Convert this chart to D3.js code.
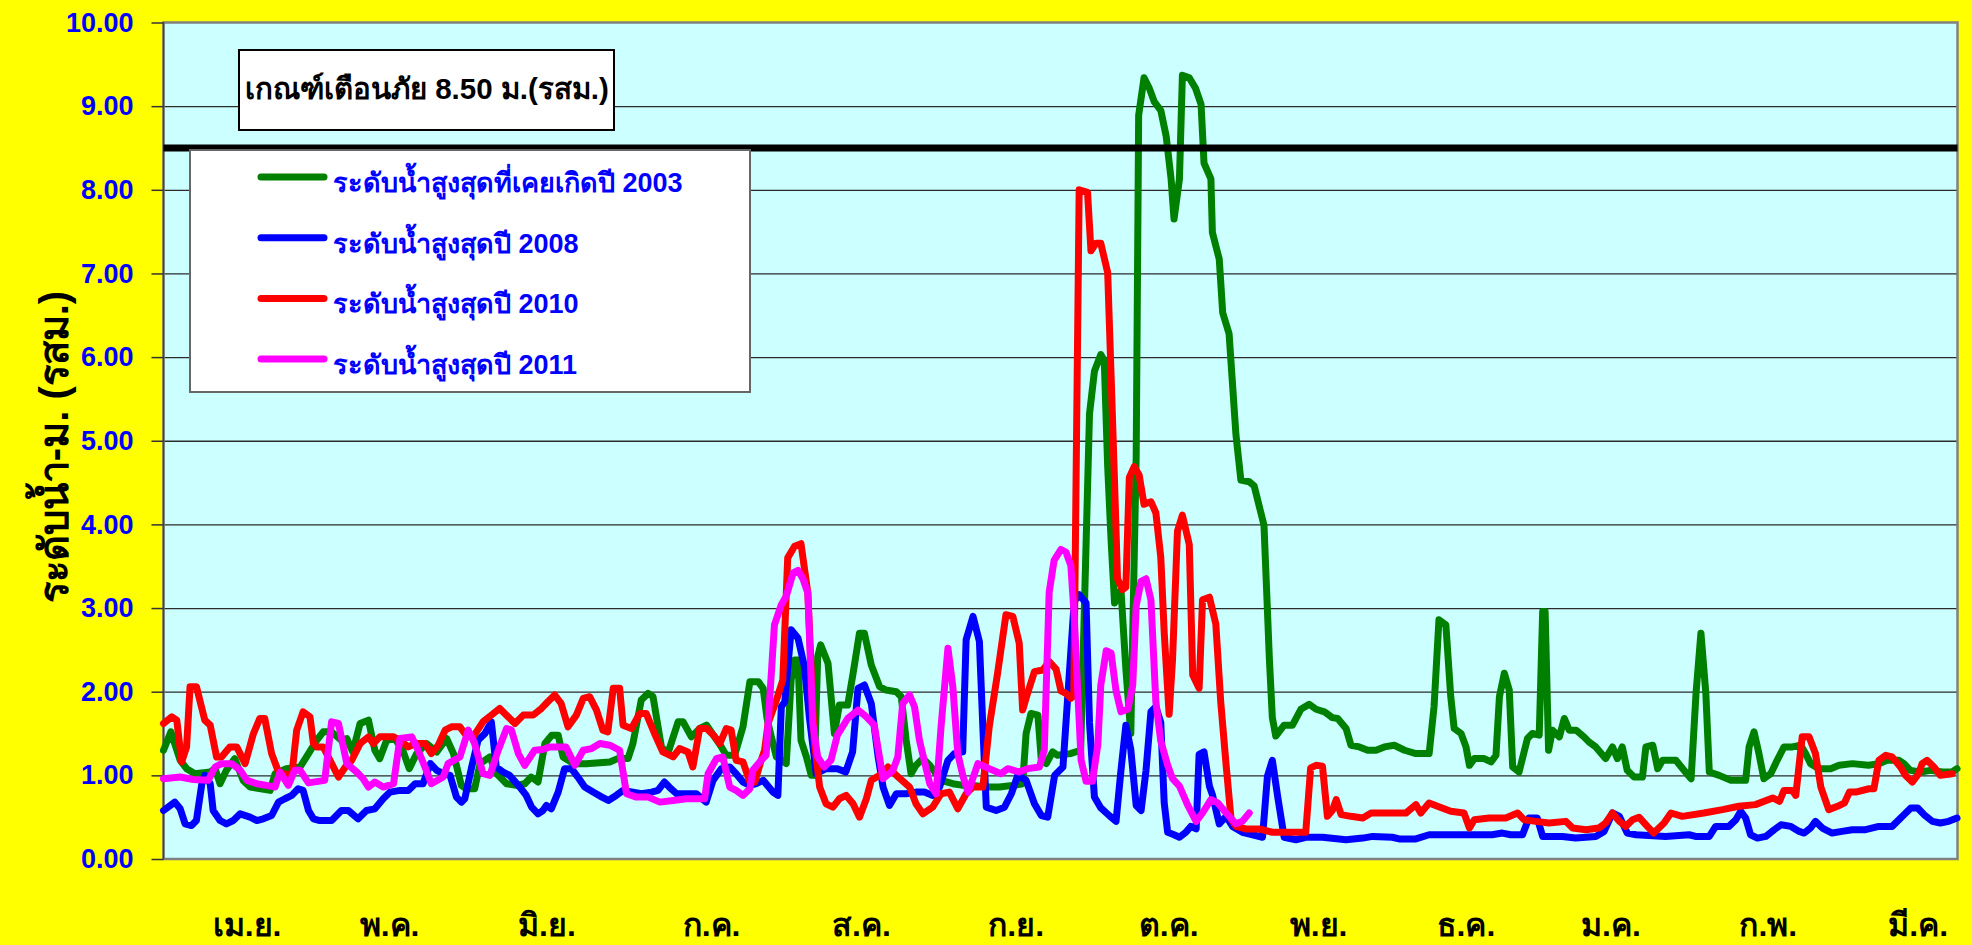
<!DOCTYPE html>
<html>
<head>
<meta charset="utf-8">
<script src="https://d3js.org/d3.v7.min.js"></script>
<style type="text/css">
  body {
    margin: 0;
    background: #ffff00;
    font-family: "Liberation Sans", Arial, sans-serif;
  }
  .ylab text { fill: #0000ff; font-weight: bold; font-size: 27px; }
  .ylab path { display: none; }
  .ylab line { stroke: #333; stroke-width: 1.5; }
  .grid line { stroke: #2b2b2b; stroke-width: 1.3; }
  .grid path { display: none; }
  .series { fill: none; stroke-width: 7; stroke-linejoin: round; stroke-linecap: round; }
</style>
</head>
<body>
<script type="text/javascript">

// day of the water year (0 = 1 April) and water level (m. รสม.)
var months = ["เม.ย.", "พ.ค.", "มิ.ย.", "ก.ค.", "ส.ค.", "ก.ย.", "ต.ค.", "พ.ย.", "ธ.ค.", "ม.ค.", "ก.พ.", "มี.ค."];
var monthDays = [17, 46, 78, 111.5, 142, 173.5, 204.5, 235, 265, 294.5, 326.5, 357];
var yTicks = [0, 1, 2, 3, 4, 5, 6, 7, 8, 9, 10];
var warnLevel = 8.5;
var warnText = "เกณฑ์เตือนภัย 8.50 ม.(รสม.)";
var yTitle = "ระดับน้ำ-ม. (รสม.)";

var level2003 = [[0,1.3],[1.5,1.52],[3.4,1.18],[4.7,1.08],[6.4,1.02],[9.5,1.04],[10.5,1.08],[11.5,0.9],[12.8,1.06],[14.5,1.2],[16.2,0.94],[17.6,0.86],[21.7,0.82],[22.7,1.02],[25,1.08],[27.8,1.1],[29.5,1.26],[31.2,1.42],[32.5,1.52],[34.2,1.52],[36.2,1.42],[37.3,1.44],[38.5,1.28],[40,1.62],[41.7,1.66],[43,1.3],[44,1.2],[45.4,1.42],[47.1,1.44],[48.8,1.28],[50,1.08],[51.5,1.26],[53.5,1.38],[55.6,1.28],[57.6,1.44],[59,1.26],[60.6,0.88],
  [61.6,0.84],[63.3,0.84],[64.4,1.14],[66.4,1.22],[67.8,1.02],[69.8,0.9],[71.8,0.88],[73.5,0.9],[74.8,0.98],[76.2,0.92],[77.6,1.38],[79,1.48],[80.3,1.48],[81.3,1.22],[83.4,1.14],[86,1.14],[90.8,1.16],[92.4,1.2],[94.5,1.2],[95.5,1.38],[97.2,1.9],[98.6,1.98],[99.6,1.94],[101.3,1.34],[102.6,1.26],[104.7,1.64],[105.7,1.64],[107.4,1.46],[109.1,1.56],[110.5,1.6],[111.9,1.48],[113.5,1.34],[114.5,1.24],[116.2,1.24],[117.9,1.58],[119.3,2.12],[121,2.12],[122,2.04],
  [122.8,1.68],[123.5,1.5],[124.7,1.22],[126.7,1.14],[127.7,2.14],[128.4,2.38],[129.1,2.38],[129.7,1.42],[130.8,1.22],[131.8,1.0],[132.4,1.0],[133.1,2.42],[133.7,2.56],[135.2,2.34],[136.5,1.5],[137.5,1.84],[139.2,1.84],[140.3,2.22],[141.6,2.7],[142.6,2.7],[144,2.32],[145.7,2.06],[147,2.02],[149.1,2.0],[150.1,1.94],[151.1,1.42],[152.1,1.02],[153.1,1.12],[154.5,1.2],[155.9,1.12],[158.2,0.94],[160.6,0.9],[162.7,0.88],[164.7,0.88],[167.4,0.86],[170.1,0.86],[172.8,0.88],[174.8,0.9],[175.5,1.5],[176.5,1.74],[177.9,1.72],[178.6,1.18],[179.6,1.14],[180.9,1.28],[181.9,1.24],
  [184.5,1.26],[186.6,1.3],[188.4,5.32],[189.4,5.83],[190.7,6.03],[191.4,5.96],[192.1,4.69],[192.8,3.8],[193.5,3.06],[194.8,3.22],[195.8,2.27],[196.8,1.5],[197.9,4.81],[198.4,8.89],[199.5,9.34],[200.6,9.21],[201.6,9.05],[202.9,8.95],[204,8.64],[205,8.13],[205.6,7.65],[206.7,8.13],[207.3,9.37],[208.7,9.34],[210,9.21],[211.1,9.02],[211.7,8.32],[213.1,8.13],[213.4,7.49],[214.8,7.17],[215.5,6.53],[216.8,6.28],[218.2,5.07],[219.2,4.53],[220.9,4.51],[221.9,4.46],[223.9,3.99],[225,2.39],[225.6,1.69],[226.3,1.47],[228,1.6],[229.7,1.6],[231.4,1.79],[233.1,1.85],[234.5,1.79],[236.2,1.76],[237.8,1.69],
  [238.9,1.68],[240.6,1.56],[241.6,1.36],[243.3,1.34],[245,1.3],[246.7,1.3],[248.4,1.34],[250.4,1.36],[252.5,1.3],[254.8,1.26],[257.5,1.26],[258.5,1.82],[259.5,2.86],[260.9,2.8],[261.9,1.94],[262.6,1.56],[264,1.5],[265,1.34],[265.7,1.12],[266.7,1.2],[268.7,1.2],[270.1,1.16],[271.1,1.24],[271.8,1.94],[272.8,2.22],[273.8,2.02],[274.5,1.1],[275.8,1.04],[277.5,1.44],[278.5,1.5],[279.9,1.48],[280.6,2.96],[281.1,2.96],[281.8,1.3],[282.6,1.54],[284,1.46],[285,1.68],[286,1.54],[287.4,1.54],[289,1.46],[290,1.4],[291.4,1.34],[293.4,1.2],[294.8,1.34],[295.8,1.2],[296.8,1.34],[297.8,1.06],[299.2,0.98],[300.9,0.98],
  [301.6,1.34],[303,1.36],[304,1.08],[305,1.18],[307.7,1.18],[309.1,1.08],[310.8,0.96],[311.8,1.98],[312.8,2.7],[313.8,1.98],[314.5,1.04],[316.5,1.0],[318.9,0.94],[321.9,0.94],[322.6,1.34],[323.6,1.52],[324.6,1.26],[325.6,0.96],[327,1.02],[328.3,1.18],[329.7,1.34],[331.4,1.34],[333.1,1.36],[334.1,1.26],[335.1,1.14],[336.8,1.08],[339.2,1.08],[340.9,1.12],[343.6,1.14],[346.9,1.12],[349,1.14],[350.7,1.18],[353.1,1.18],[354.1,1.14],[355.4,1.06],[357.5,1.04],[359.5,1.06],[361.9,1.04],[363.9,1.04],[364.9,1.08]];

var level2008 = [[0,0.58],[2.3,0.68],[3.4,0.6],[4.4,0.42],[5.7,0.4],[6.7,0.46],[7.8,0.9],[8.4,1.0],[9.5,0.9],[10.1,0.58],[11.5,0.46],[12.8,0.42],[14.2,0.46],[15.6,0.54],[17.6,0.5],[19,0.46],[20.3,0.48],[22,0.52],[23.4,0.68],[24.7,0.72],[26.1,0.76],[27.4,0.84],[28.4,0.82],[29.5,0.58],[30.5,0.48],[31.8,0.46],[34.2,0.46],[36.2,0.58],[37.6,0.58],[39.6,0.48],[41.3,0.58],[43,0.6],[44.7,0.72],[46.1,0.8],[48.1,0.82],[49.8,0.82],[51.2,0.9],[52.8,0.9],[54.3,1.14],[55.6,1.06],[56.9,1.02],[58.3,1.0],[59.6,0.74],[60.6,0.68],
  [61.3,0.72],[62.7,1.1],[64,1.42],[65.4,1.5],[66.7,1.64],[67.7,1.1],[69.1,1.04],[70.4,1.0],[72.5,0.86],[73.8,0.76],[74.9,0.62],[76.2,0.54],[77.2,0.58],[77.9,0.64],[78.9,0.6],[80.3,0.8],[81.6,1.08],[83,1.08],[84.3,0.98],[85.7,0.86],[87.4,0.8],[89.2,0.74],[90.5,0.7],[92.1,0.76],[93.5,0.82],[95.5,0.8],[97.2,0.78],[99.3,0.8],[100.6,0.82],[101.9,0.92],[102.9,0.86],[104.4,0.78],[106.4,0.78],[108.4,0.78],[110.4,0.68],[111.8,0.94],[113.5,1.08],[115.2,1.1],[116.5,1.02],[117.9,0.92],[119.3,0.88],[120.6,0.9],[122,0.94],
  [124,0.8],[125,0.76],[125.7,1.82],[126.4,1.88],[127.7,2.74],[129.1,2.64],[130.4,2.3],[131.4,1.7],[132.8,1.02],[134.8,1.08],[137.1,1.08],[138.8,1.04],[140.2,1.28],[141.3,2.04],[142.6,2.08],[144,1.86],[145.4,1.22],[146.4,0.86],[147.7,0.64],[149.1,0.78],[151.1,0.78],[153.1,0.8],[154.8,0.8],[156.5,0.76],[157.9,0.86],[159.6,1.18],[160.9,1.26],[162.6,1.28],[163.3,2.62],[164.7,2.9],[166,2.6],[166.7,1.58],[167.4,0.62],[169.4,0.58],[171.1,0.62],[172.5,0.78],[173.8,1.0],[175.5,0.94],[177.2,0.66],[178.6,0.52],[179.9,0.5],[181.3,1.0],[183,1.1],
  [185.3,3.08],[186.3,3.16],[187.7,3.06],[188.4,1.63],[189.4,0.74],[190.7,0.61],[192.4,0.52],[193.8,0.45],[194.8,1.06],[195.8,1.6],[196.8,1.31],[197.9,0.64],[198.9,0.58],[199.9,1.06],[200.9,1.76],[201.9,1.82],[202.9,1.63],[203.6,0.67],[204.3,0.32],[205.6,0.29],[206.7,0.26],[208,0.32],[209,0.39],[210.1,0.36],[210.7,1.25],[211.7,1.28],[212.8,0.87],[213.4,0.77],[214.8,0.42],[216.2,0.51],[217.5,0.39],[219.5,0.32],[221.6,0.29],[223.6,0.26],[224.6,0.99],[225.6,1.18],[226.7,0.74],[228,0.26],[230.4,0.23],[232.4,0.26],[235.8,0.26],
  [240.6,0.23],[244,0.25],[246,0.27],[250,0.26],[251.4,0.24],[254.8,0.24],[257.5,0.29],[264.3,0.29],[270.3,0.29],[272.4,0.31],[274.1,0.29],[276.5,0.29],[277.8,0.49],[279.5,0.49],[280.6,0.27],[284.6,0.27],[287.3,0.25],[291.4,0.27],[293.1,0.33],[294.8,0.55],[296.2,0.51],[297.8,0.31],[299.6,0.29],
  [305.6,0.27],[310.4,0.29],[311.7,0.27],[314.5,0.27],[315.8,0.39],[318.5,0.39],[319.9,0.47],[320.9,0.57],[321.9,0.49],[322.9,0.29],[324.3,0.25],[326,0.27],[327.7,0.35],[329.1,0.41],[331.1,0.39],[332.8,0.33],[333.8,0.31],[335.1,0.37],[336.1,0.45],[337.5,0.37],[339.5,0.31],[341.5,0.33],[343.6,0.35],[346.3,0.35],[349,0.39],[351.7,0.39],[353.8,0.51],[355.5,0.61],[356.9,0.61],[358.2,0.53],[359.9,0.45],[361.5,0.43],[363.2,0.45],[364.9,0.49]];

var level2010 = [[0,1.62],[1.7,1.7],[2.7,1.66],[3.7,1.16],[4.7,1.34],[5.4,2.06],[6.7,2.06],[8.4,1.66],[9.5,1.6],[10.8,1.22],[11.8,1.22],[13.5,1.34],[14.9,1.34],[16.6,1.14],[18.3,1.5],[19.6,1.68],[20.6,1.68],[22,1.26],[23.4,1.04],[24.4,1.02],[26.1,1.0],[27.1,1.54],[28.4,1.76],[29.8,1.7],[30.5,1.38],[31.2,1.34],[32.5,1.34],[35.6,0.98],[37,1.1],[38.3,1.18],[40,1.38],[41.7,1.46],[42.7,1.38],[44,1.46],[46.8,1.46],[48.1,1.42],[49.8,1.34],[51.2,1.38],[53.2,1.38],[54.5,1.26],[55.9,1.36],[57.3,1.54],[58.6,1.58],[60.3,1.58],
  [61.3,1.5],[63,1.46],[65,1.64],[66.7,1.72],[68.4,1.8],[70.1,1.7],[71.5,1.62],[73.2,1.72],[75.2,1.72],[76.9,1.8],[78.2,1.88],[79.6,1.96],[80.9,1.86],[82.3,1.58],[84,1.72],[85.4,1.92],[86.7,1.94],[88.1,1.78],[89.4,1.54],[90.4,1.52],[91.5,2.04],[92.8,2.04],[93.5,1.6],[95.2,1.56],[96.9,1.74],[98.2,1.74],[99.9,1.5],[101.6,1.28],[103.7,1.22],[105,1.32],[106.7,1.28],[107.7,1.1],[109.1,1.56],[110.5,1.56],[111.9,1.48],[113.2,1.38],[114.5,1.56],[115.5,1.54],[116.5,1.18],[117.9,1.16],[119.3,0.92],[120.3,0.92],[121.6,1.18],
  [122.3,1.3],[123,1.62],[124.7,1.9],[126,2.14],[127,3.6],[128.4,3.74],[129.7,3.77],[131.1,3.18],[132.4,1.42],[133.5,0.86],[134.8,0.66],[136.2,0.62],[137.5,0.72],[138.9,0.76],[140.3,0.66],[141.6,0.5],[143,0.72],[144,0.94],[145.7,1.0],[147.4,1.1],[149.1,1.0],[151.8,0.86],[153.1,0.66],[154.5,0.54],[156.5,0.62],[158.2,0.78],[159.9,0.8],[161.6,0.6],[163.3,0.78],[164.7,0.86],[166.7,0.86],[168,1.58],[169.7,2.22],[171.4,2.92],[172.8,2.9],[174.1,2.58],[174.8,1.78],[175.8,1.98],[177.2,2.24],[178.9,2.26],[180.2,2.36],[181.6,2.27],[182.6,2.01],[183.6,1.98],[184.6,1.92],[185.2,1.95],
  [186.3,8.0],[188,7.97],[188.7,7.27],[189.7,7.36],[190.7,7.36],[192.1,7.01],[192.8,5.77],[193.5,4.5],[194.1,3.35],[195.1,3.22],[195.8,3.25],[196.5,4.56],[197.5,4.69],[198.5,4.59],[199.5,4.24],[200.9,4.27],[201.9,4.14],[202.9,3.61],[203.6,2.71],[204.6,1.73],[205.3,2.39],[206.3,3.92],[207.3,4.11],[208.7,3.76],[209.4,2.2],[210.7,2.04],[211.4,3.1],[212.8,3.13],[214.1,2.81],[215.1,1.88],[216.2,1.12],[217.2,0.48],[218.2,0.39],[220.2,0.36],[222.9,0.36],[225.6,0.32],[229.7,0.32],[232.4,0.32],[233.4,1.09],[234.5,1.12],[235.8,1.11],[236.8,0.51],[237.8,0.58],
  [238.6,0.71],[239.6,0.53],[241.6,0.51],[244,0.49],[245.7,0.55],[248.7,0.55],[252.8,0.55],[254.8,0.65],[255.8,0.55],[257.5,0.67],[259.2,0.63],[261.9,0.57],[264.6,0.55],[265.7,0.37],[266.7,0.47],[269.7,0.49],[273.1,0.49],[275.5,0.55],[276.8,0.47],[279.2,0.45],[281.9,0.43],[285.3,0.45],[286.7,0.37],[289.4,0.35],[292,0.37],[293.4,0.43],[294.8,0.55],[296.2,0.45],[297.5,0.39],[298.9,0.47],
  [300.2,0.5],[301.9,0.39],[303.2,0.31],[305.3,0.43],[306.7,0.55],[309,0.51],[313.4,0.55],[317.2,0.59],[320.5,0.63],[323.9,0.65],[327.4,0.73],[328.8,0.69],[329.7,0.82],[331.4,0.82],[332.1,0.76],[333.4,1.46],[334.8,1.46],[336.1,1.26],[337.2,0.86],[338.8,0.59],[340.6,0.63],[342,0.67],[343,0.8],[344.3,0.8],[347,0.84],[348,0.84],[349,1.18],[350.4,1.24],[351.7,1.22],[353.4,1.1],[354.4,1.0],[355.8,0.92],[357.1,1.02],[357.8,1.14],[358.8,1.18],[360.2,1.1],[361.5,1.0],[363.9,1.02]];

var level2011 = [[0,0.96],[3.4,0.98],[6.1,0.95],[9.1,0.94],[10.5,1.1],[11.8,1.14],[13.9,1.14],[15.6,1.06],[17,0.94],[19,0.9],[21,0.88],[22.7,0.86],[23.7,1.04],[25.4,0.88],[26.7,1.06],[27.8,1.06],[29.5,0.91],[32.8,0.94],[34.2,1.64],[35.6,1.62],[37.3,1.14],[39.3,1.04],[40.6,0.96],[41.7,0.86],[43,0.92],[44.7,0.86],[46.8,0.9],[48.1,1.44],[50.5,1.46],[51.8,1.3],[53.2,1.1],[54.5,0.9],[56.9,0.98],[57.9,1.14],[60.3,1.22],
  [62,1.54],[63.3,1.38],[65,1.02],[66.4,1.0],[68.1,1.3],[69.8,1.56],[70.8,1.54],[72.2,1.26],[73.5,1.12],[75.5,1.3],[77.2,1.31],[78.6,1.34],[80.6,1.34],[81.9,1.34],[83.7,1.12],[85.4,1.3],[87.1,1.32],[88.8,1.38],[90.8,1.36],[92.8,1.3],[93.5,1.04],[94.2,0.78],[96.2,0.74],[98.6,0.74],[101,0.68],[103.7,0.7],[106.4,0.72],[110.1,0.72],[110.8,1.02],[112.5,1.2],[113.8,1.22],[115.2,0.86],[116.5,0.82],[117.9,0.76],[119.3,0.84],[119.9,1.06],[121.6,1.18],
  [122.6,1.24],[124.3,2.8],[125.7,3.04],[126.7,3.14],[128.1,3.42],[129.1,3.45],[130.1,3.35],[131.1,3.18],[132.1,1.62],[133.1,1.22],[134.4,1.1],[135.8,1.18],[137.1,1.48],[139.2,1.68],[141.3,1.78],[143,1.7],[144.6,1.6],[146.4,0.96],[148.4,1.06],[149.4,1.22],[150.4,1.86],[151.8,1.96],[152.8,1.82],[153.8,1.42],[155.9,0.9],[157.2,0.78],[158.2,1.58],[159.6,2.52],[160.6,2.06],[161.6,1.26],[162.7,0.98],[163.7,0.8],[165.7,1.14],[168,1.08],[170.4,1.02],[171.8,1.08],[174.1,1.04],[175.8,1.08],[178.2,1.1],[179.2,1.3],
  [180.2,3.19],[181.2,3.57],[182.6,3.7],[183.6,3.67],[184.6,3.51],[185.3,2.9],[186,2.01],[186.7,1.18],[187.7,0.93],[189,0.93],[190.1,1.37],[190.7,2.08],[191.8,2.49],[192.8,2.46],[193.8,2.01],[194.8,1.76],[196.2,1.79],[197.2,2.08],[197.9,3.03],[198.9,3.32],[199.9,3.35],[200.9,3.1],[201.9,1.88],[202.9,1.41],[204.3,1.12],[205.3,0.96],[206.7,0.87],[208.4,0.64],[210.1,0.45],[211.4,0.55],[213.1,0.71],[214.5,0.67],[216.2,0.55],[218.2,0.42],[219.5,0.45],[220.9,0.55]];

var seriesNames = ["ระดับน้ำสูงสุดที่เคยเกิดปี 2003", "ระดับน้ำสูงสุดปี 2008", "ระดับน้ำสูงสุดปี 2010", "ระดับน้ำสูงสุดปี 2011"];
var seriesColors = ["#008000", "#0000ff", "#ff0000", "#ff00ff"];
var seriesData = [level2003, level2008, level2010, level2011];

var W = 1972, H = 945;
var plot = {left: 163.5, right: 1957.5, top: 22.5, bottom: 859};

var svg = d3.select("body").append("svg")
    .attr("width", W)
    .attr("height", H);

var x = d3.scaleLinear().domain([0, 365]).range([plot.left, plot.right]);
var y = d3.scaleLinear().domain([0, 10]).range([plot.bottom, plot.top]);

// plot background
svg.append("rect")
    .attr("x", plot.left).attr("y", plot.top)
    .attr("width", plot.right - plot.left)
    .attr("height", plot.bottom - plot.top)
    .attr("fill", "#ccffff");

// grid
svg.append("g")
    .attr("class", "grid")
    .attr("transform", "translate(" + plot.left + ",0)")
    .call(d3.axisLeft(y).tickValues(yTicks.slice(1, -1)).tickSize(-(plot.right - plot.left)).tickFormat(""));

// frame
svg.append("rect")
    .attr("x", plot.left).attr("y", plot.top)
    .attr("width", plot.right - plot.left)
    .attr("height", plot.bottom - plot.top)
    .attr("fill", "none")
    .attr("stroke", "#808080")
    .attr("stroke-width", 2.5);
svg.append("line")
    .attr("x1", plot.left).attr("x2", plot.left)
    .attr("y1", plot.top).attr("y2", plot.bottom)
    .attr("stroke", "#444").attr("stroke-width", 1.5);

// y axis labels
svg.append("g")
    .attr("class", "ylab")
    .attr("transform", "translate(" + plot.left + ",0)")
    .call(d3.axisLeft(y).tickValues(yTicks).tickSize(12).tickPadding(18).tickFormat(d3.format(".2f")));

// month labels
svg.append("g").selectAll("text")
    .data(months)
    .enter().append("text")
    .attr("x", function(d, i) { return x(monthDays[i]); })
    .attr("y", 936)
    .attr("text-anchor", "middle")
    .attr("font-size", 32)
    .attr("font-weight", "bold")
    .attr("fill", "#000")
    .text(function(d) { return d; });

// y title
svg.append("text")
    .attr("transform", "translate(68,447) rotate(-90)")
    .attr("text-anchor", "middle")
    .attr("font-size", 40)
    .attr("font-weight", "bold")
    .attr("fill", "#000")
    .text(yTitle);

// series
var line = d3.line()
    .x(function(d) { return x(d[0]); })
    .y(function(d) { return y(d[1]); });

svg.append("g").selectAll("path")
    .data(seriesData)
    .enter().append("path")
    .attr("class", "series")
    .attr("stroke", function(d, i) { return seriesColors[i]; })
    .attr("d", line);

// warning level
svg.append("line")
    .attr("x1", plot.left).attr("x2", plot.right)
    .attr("y1", y(warnLevel)).attr("y2", y(warnLevel))
    .attr("stroke", "#000")
    .attr("stroke-width", 7);

// warning label box
svg.append("rect")
    .attr("x", 239).attr("y", 50)
    .attr("width", 375).attr("height", 80)
    .attr("fill", "#fff")
    .attr("stroke", "#000")
    .attr("stroke-width", 2);
svg.append("text")
    .attr("x", 245).attr("y", 99)
    .attr("font-size", 29.5)
    .attr("font-weight", "bold")
    .attr("fill", "#000")
    .text(warnText);

// legend
var legend = svg.append("g");
legend.append("rect")
    .attr("x", 190).attr("y", 150)
    .attr("width", 560).attr("height", 242)
    .attr("fill", "#fff")
    .attr("stroke", "#666")
    .attr("stroke-width", 2);

var item = legend.selectAll(".item")
    .data(seriesNames)
    .enter().append("g")
    .attr("class", "item")
    .attr("transform", function(d, i) { return "translate(0," + (177 + i * 60.7) + ")"; });

item.append("line")
    .attr("x1", 261).attr("x2", 324)
    .attr("stroke", function(d, i) { return seriesColors[i]; })
    .attr("stroke-width", 7)
    .attr("stroke-linecap", "round");

item.append("text")
    .attr("x", 333).attr("y", 15)
    .attr("font-size", 27)
    .attr("font-weight", "bold")
    .attr("fill", "#0000ff")
    .text(function(d) { return d; });

</script>
</body>
</html>
